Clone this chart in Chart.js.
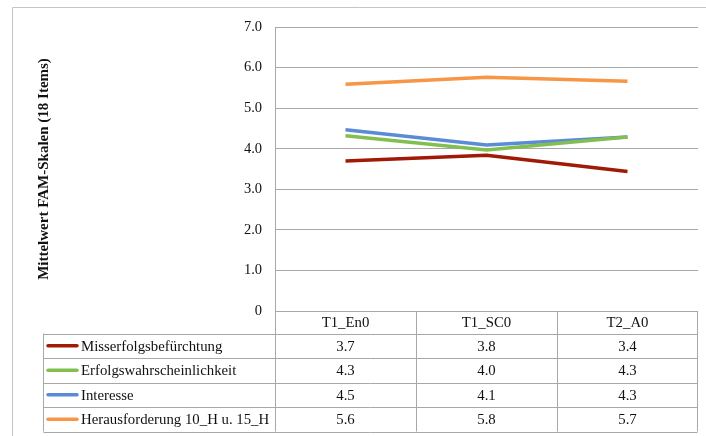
<!DOCTYPE html>
<html>
<head>
<meta charset="utf-8">
<script src="https://cdn.jsdelivr.net/npm/chart.js@4"></script>
<style>
html,body{margin:0;padding:0;background:#fff;}
#wrap{width:706px;height:436px;position:relative;}
</style>
</head>
<body>
<div id="wrap"><canvas id="c" width="706" height="436"></canvas></div>
<script>
const categories = ['T1_En0', 'T1_SC0', 'T2_A0'];
const seriesNames = ['Misserfolgsbefürchtung', 'Erfolgswahrscheinlichkeit', 'Interesse', 'Herausforderung 10_H u. 15_H'];
const misserfolg = [3.70, 3.84, 3.44];
const erfolg = [4.32, 3.97, 4.29];
const interesse = [4.47, 4.09, 4.29];
const herausforderung = [5.59, 5.76, 5.66];
const yTicks = [0, 1, 2, 3, 4, 5, 6, 7];
const colors = ['#a01a06', '#83bf50', '#5b8bd6', '#f79646'];
const seriesValues = [misserfolg, erfolg, interesse, herausforderung];

const SERIF = '"Liberation Serif", "Times New Roman", serif';
const GRID = '#a8a8a8';

const tablePlugin = {
  id: 'dataTable',
  beforeDraw(chart) {
    const ctx = chart.ctx;
    ctx.save();
    ctx.strokeStyle = '#c4c4c4';
    ctx.lineWidth = 1;
    ctx.beginPath();
    ctx.moveTo(12.5, 440);
    ctx.lineTo(12.5, 7.5);
    ctx.lineTo(710, 7.5);
    ctx.stroke();
    ctx.restore();
  },
  afterDraw(chart) {
    const ctx = chart.ctx;
    const xs = chart.scales.x;
    const area = chart.chartArea;
    const left = area.left, right = area.right - 1;
    const headTop = area.bottom, headBot = 333.5;
    const rowH = 24.5;
    const legLeft = 43.5;
    const nRows = chart.data.datasets.length;
    const tableBot = headBot + rowH * nRows;
    ctx.save();
    ctx.strokeStyle = GRID;
    ctx.lineWidth = 1;
    const colEdges = [left];
    for (let i = 0; i < categories.length; i++) {
      const c = xs.getPixelForValue(i);
      const half = (area.right - area.left) / categories.length / 2;
      colEdges.push(i === categories.length - 1 ? right : c + half);
    }
    ctx.beginPath();
    colEdges.forEach((x, i) => {
      const xx = Math.round(x) + 0.5;
      ctx.moveTo(xx, i === 0 ? area.top : headTop);
      ctx.lineTo(xx, tableBot);
    });
    ctx.moveTo(legLeft, headBot);
    ctx.lineTo(legLeft, tableBot);
    ctx.moveTo(left, Math.round(headTop) + 0.5);
    ctx.lineTo(right + 0.5, Math.round(headTop) + 0.5);
    for (let r = 0; r <= nRows; r++) {
      const y = Math.round(headBot + r * rowH) + 0.5;
      ctx.moveTo(legLeft, y);
      ctx.lineTo(right + 0.5, y);
    }
    ctx.stroke();

    ctx.fillStyle = '#111';
    ctx.font = '14.8px ' + SERIF;
    ctx.textBaseline = 'middle';
    ctx.textAlign = 'center';
    categories.forEach((c, i) => {
      ctx.fillText(c, xs.getPixelForValue(i), (headTop + headBot) / 2 + 1);
    });
    chart.data.datasets.forEach((ds, r) => {
      const yc = headBot + r * rowH + rowH / 2 + 1;
      ctx.textAlign = 'center';
      ctx.fillStyle = '#111';
      ds.data.forEach((v, i) => {
        ctx.fillText(v.toFixed(1), xs.getPixelForValue(i), yc);
      });
      ctx.strokeStyle = ds.borderColor;
      ctx.lineWidth = 3.5;
      ctx.lineCap = 'round';
      ctx.beginPath();
      ctx.moveTo(48, yc - 1);
      ctx.lineTo(77, yc - 1);
      ctx.stroke();
      ctx.textAlign = 'left';
      ctx.fillText(ds.label, 81, yc);
    });
    ctx.restore();
  }
};

new Chart(document.getElementById('c'), {
  type: 'line',
  data: {
    labels: categories,
    datasets: seriesNames.map((n, i) => ({
      label: n,
      data: seriesValues[i],
      borderColor: colors[i],
      backgroundColor: colors[i],
      borderWidth: 3.5,
      pointRadius: 0,
      tension: 0,
      fill: false
    }))
  },
  options: {
    responsive: false,
    animation: false,
    layout: { padding: { left: 0, top: 27, right: 8, bottom: 125 } },
    plugins: { legend: { display: false }, tooltip: { enabled: false } },
    scales: {
      x: {
        display: false,
        offset: true
      },
      y: {
        min: 0, max: 7,
        afterFit(scale) { scale.width = 275; },
        afterBuildTicks(scale) { scale.ticks = yTicks.map(v => ({ value: v })); },
        ticks: {
          padding: 13,
          color: '#111',
          font: { family: SERIF, size: 14.5 },
          callback: v => v === 0 ? '0' : v.toFixed(1)
        },
        grid: { color: GRID, lineWidth: 1, drawTicks: false },
        border: { color: GRID, width: 1 },
        title: {
          display: true,
          text: 'Mittelwert FAM-Skalen (18 Items)',
          color: '#111',
          font: { family: SERIF, size: 15, weight: 'bold' },
          padding: { top: 35, bottom: 0 }
        }
      }
    }
  },
  plugins: [tablePlugin]
});
</script>
</body>
</html>
